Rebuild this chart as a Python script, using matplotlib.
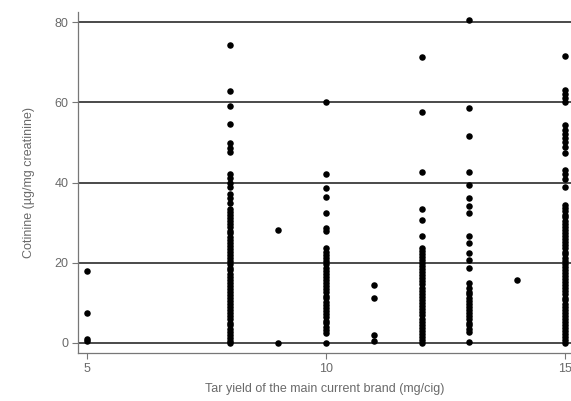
import matplotlib

matplotlib.use("Agg")
import matplotlib.pyplot as plt

plt.rcParams["font.family"] = ["Liberation Sans", "DejaVu Sans"]

# cotinine values, grouped by tar yield of the brand (mg/cig)
TAR_5 = [0.4, 1.0, 7.5, 18.0]
TAR_8 = [0.0, 0.6, 1.3, 2.1, 2.8, 3.5, 4.4, 5.0, 5.9, 6.6, 7.4, 8.1, 8.9, 9.6,
         10.4, 11.2, 11.9, 12.7, 13.5, 14.2, 15.0, 15.8, 16.5, 17.3, 18.1,
         18.8, 19.6, 20.4, 21.1, 21.9, 22.7, 23.4, 24.2, 25.0, 25.7, 26.5,
         27.3, 28.0, 28.8, 29.6, 30.3, 31.1, 31.9, 32.6, 33.5,
         35.0, 36.2, 37.2, 39.0, 40.0, 41.1, 42.1, 47.5, 48.6, 49.9, 54.6,
         59.0, 62.7, 74.3]
TAR_9 = [0.0, 28.2]
TAR_10 = [0.0, 2.5, 3.3, 4.1, 4.9, 5.6, 6.4, 7.2, 8.0, 8.7, 9.5, 10.3, 11.1,
          11.8, 12.6, 13.4, 14.2, 14.9, 15.7, 16.5, 17.3, 18.0, 18.8, 19.6,
          20.4, 21.1, 21.9, 22.7, 23.6,
          27.8, 28.7, 32.5, 36.5, 38.6, 42.2, 60.0]
TAR_11 = [0.5, 2.0, 11.1, 14.5]
TAR_12 = [0.0, 0.7, 1.5, 2.2, 3.0, 3.8, 4.5, 5.3, 6.1, 6.9, 7.6, 8.4, 9.2,
          10.0, 10.7, 11.5, 12.3, 13.0, 13.8, 14.6, 15.4, 16.1, 16.9, 17.7,
          18.5, 19.2, 20.0, 20.8, 21.5, 22.3, 23.0, 23.6,
          26.7, 30.7, 33.3, 42.5, 57.7, 71.2]
TAR_13 = [0.3, 2.8, 3.6, 4.4, 5.1, 5.9, 6.7, 7.4, 8.2, 9.0, 9.8, 10.5, 11.3,
          12.1, 12.8, 13.6, 14.9,
          18.6, 20.7, 22.4, 25.0, 26.7, 32.5, 34.2, 36.1, 39.4, 42.5, 51.7,
          58.5, 80.5]
TAR_14 = [15.7]
TAR_15 = [0.0, 0.7, 1.4, 2.2, 2.9, 3.7, 4.4, 5.2, 6.0, 6.7, 7.5, 8.3, 9.0,
          9.8, 10.6, 11.3, 12.1, 12.9, 13.6, 14.4, 15.2, 15.9, 16.7, 17.5,
          18.2, 19.0, 19.8, 20.5, 21.3, 22.1, 22.8, 23.6, 24.4, 25.1, 25.9,
          26.7, 27.4, 28.2, 29.0, 29.7, 30.5, 31.3, 32.0, 32.8, 33.6, 34.4,
          39.0, 41.0, 42.0, 43.2, 47.3, 48.9, 50.0, 51.0, 52.0, 53.0, 54.4,
          60.0, 61.0, 62.0, 63.1, 71.6]

GROUPS = {5: TAR_5, 8: TAR_8, 9: TAR_9, 10: TAR_10, 11: TAR_11,
          12: TAR_12, 13: TAR_13, 14: TAR_14, 15: TAR_15}

X_TICKS = [5, 10, 15]
Y_TICKS = [0, 20, 40, 60, 80]

TEXT_GREY = "#6a6a6a"

fig = plt.figure(figsize=(5.71, 4.01), dpi=100)
ax = fig.add_axes([0.1366, 0.1197, 0.8634, 0.8503])

xs, ys = [], []
for tar, vals in GROUPS.items():
    xs += [tar] * len(vals)
    ys += vals
ax.scatter(xs, ys, s=22, color="black", linewidths=0, zorder=3)

for yv in Y_TICKS:
    ax.axhline(yv, color="#3c3c3c", linewidth=1.3, zorder=1)

ax.set_xlim(4.81, 15.125)
ax.set_ylim(-2.5, 82.5)
ax.set_xticks(X_TICKS)
ax.set_yticks(Y_TICKS)
ax.tick_params(axis="both", colors="#777777", labelcolor=TEXT_GREY,
               labelsize=9, length=4, width=0.8, pad=3)

for side in ("top", "right"):
    ax.spines[side].set_visible(False)
for side in ("left", "bottom"):
    ax.spines[side].set_color("#777777")
    ax.spines[side].set_linewidth(0.9)

ax.set_xlabel("Tar yield of the main current brand (mg/cig)", fontsize=9,
              color=TEXT_GREY, labelpad=6)
ax.set_ylabel("Cotinine (µg/mg creatinine)", fontsize=9, color=TEXT_GREY,
              labelpad=14)

fig.savefig("out.png", dpi=100)
